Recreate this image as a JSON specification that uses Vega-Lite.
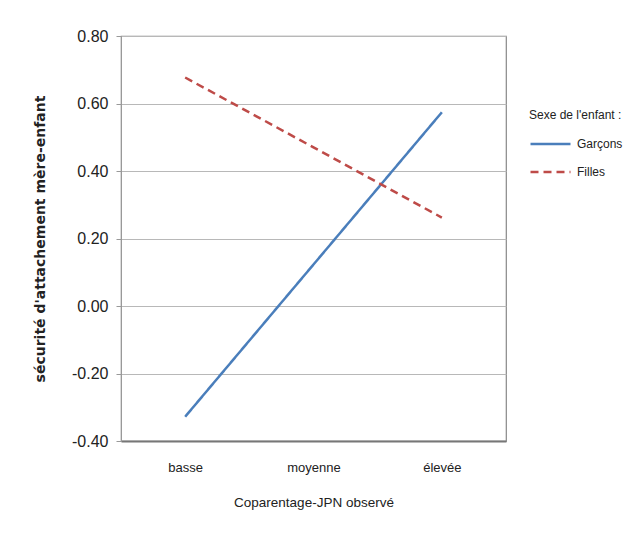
{
  "$schema": "https://vega.github.io/schema/vega-lite/v6.json",
  "autosize": {"type": "none"},
  "padding": {"left": 121, "top": 36, "right": 129, "bottom": 93},
  "width": 385,
  "height": 405,
  "background": "white",
  "data": {
    "values": [
      {"niveau": "basse", "sexe": "Garçons", "valeur": -0.328},
      {"niveau": "moyenne", "sexe": "Garçons", "valeur": 0.123},
      {"niveau": "élevée", "sexe": "Garçons", "valeur": 0.574},
      {"niveau": "basse", "sexe": "Filles", "valeur": 0.677},
      {"niveau": "moyenne", "sexe": "Filles", "valeur": 0.47},
      {"niveau": "élevée", "sexe": "Filles", "valeur": 0.262}
    ]
  },
  "mark": {"type": "line", "strokeWidth": 2.5},
  "encoding": {
    "x": {
      "field": "niveau",
      "type": "nominal",
      "sort": ["basse", "moyenne", "élevée"],
      "scale": {"type": "point", "padding": 0.5},
      "axis": {
        "title": "Coparentage-JPN observé",
        "labelAngle": 0,
        "ticks": false,
        "labelPadding": 20,
        "titlePadding": 21,
        "domainColor": "#777777",
        "domainWidth": 2,
        "grid": false
      }
    },
    "y": {
      "field": "valeur",
      "type": "quantitative",
      "scale": {"domain": [-0.4, 0.8], "nice": false, "zero": false},
      "axis": {
        "title": "sécurité d'attachement mère-enfant",
        "titleFont": "DejaVu Sans",
        "titleFontWeight": "bold",
        "titleFontSize": 14,
        "titleColor": "#222222",
        "titlePadding": 24,
        "values": [-0.4, -0.2, 0, 0.2, 0.4, 0.6, 0.8],
        "labelExpr": "replace(format(datum.value, '.2f'), '\u2212', '-')",
        "labelFontSize": 16,
        "labelPadding": 8,
        "tickSize": 5,
        "tickColor": "#999999",
        "domainColor": "#999999",
        "gridColor": "#b8b8b8",
        "gridWidth": 1.2
      }
    },
    "color": {
      "field": "sexe",
      "type": "nominal",
      "sort": ["Garçons", "Filles"],
      "scale": {"domain": ["Garçons", "Filles"], "range": ["#4a7ebb", "#be4b48"]},
      "legend": {
        "title": "Sexe de l'enfant :",
        "orient": "none",
        "legendX": 408,
        "legendY": 74,
        "symbolType": "stroke",
        "symbolSize": 1600,
        "symbolStrokeWidth": 2.5,
        "clipHeight": 16,
        "rowPadding": 12,
        "labelOffset": 5,
        "titlePadding": 14
      }
    },
    "strokeDash": {
      "field": "sexe",
      "type": "nominal",
      "sort": ["Garçons", "Filles"],
      "scale": {"domain": ["Garçons", "Filles"], "range": [[1, 0], [8, 5]]},
      "legend": {
        "title": "Sexe de l'enfant :",
        "orient": "none",
        "legendX": 408,
        "legendY": 74,
        "symbolType": "stroke",
        "symbolSize": 1600,
        "symbolStrokeWidth": 2.5,
        "clipHeight": 16,
        "rowPadding": 12,
        "labelOffset": 5,
        "titlePadding": 14
      }
    }
  },
  "config": {
    "font": "Liberation Sans",
    "view": {"stroke": "#888888", "strokeWidth": 1.2},
    "axis": {
      "labelFont": "Liberation Sans",
      "labelColor": "#222222",
      "labelFontSize": 13,
      "titleFont": "Liberation Sans",
      "titleFontSize": 13.5,
      "titleFontWeight": "normal",
      "titleColor": "#222222"
    },
    "legend": {
      "labelFont": "Liberation Sans",
      "labelFontSize": 12,
      "labelColor": "#222222",
      "titleFont": "Liberation Sans",
      "titleFontSize": 12,
      "titleFontWeight": "normal",
      "titleColor": "#222222"
    }
  }
}
